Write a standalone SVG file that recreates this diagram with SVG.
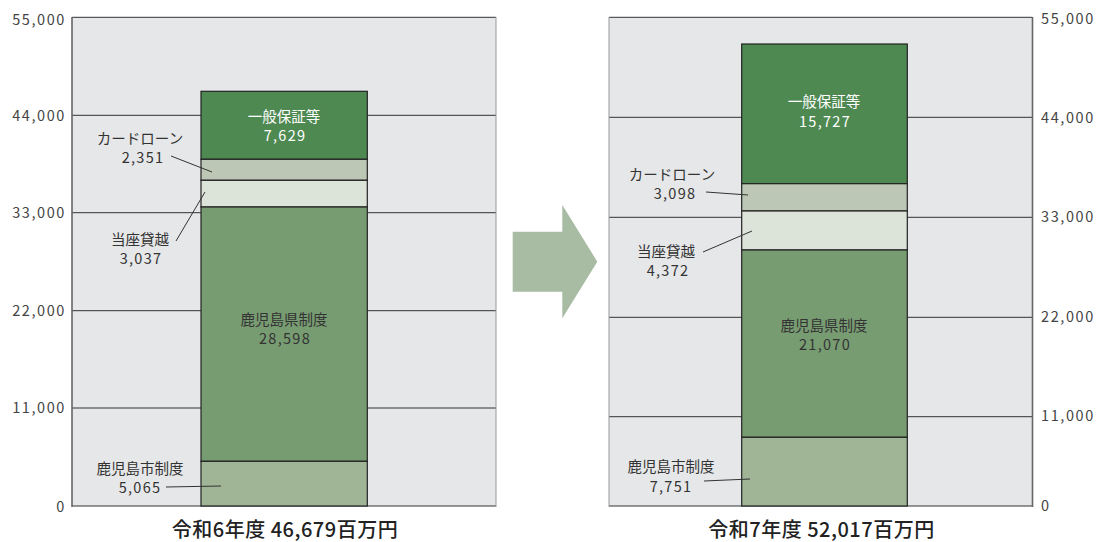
<svg xmlns="http://www.w3.org/2000/svg" width="1102" height="542" viewBox="0 0 1102 542">
<style>
text{font-family:"Noto Sans CJK JP","Noto Sans",sans-serif;}
.lbl{font-size:14.5px;fill:#333;text-anchor:middle;}
.wl{font-size:14.5px;fill:#fff;text-anchor:middle;}
.num{letter-spacing:1.3px;}
.ax{font-size:14.5px;fill:#444;letter-spacing:1.6px;}
.axl{text-anchor:end;}
.ttl{font-size:20px;fill:#222;text-anchor:middle;font-weight:500;letter-spacing:0.5px;}
.grid{stroke:#333;stroke-width:1;}
.seg{stroke:#222;stroke-width:1.2;}
.lead{stroke:#333;stroke-width:1;fill:none;}
.s1{fill:#4e8952;}
.s2{fill:#bcc8b5;}
.s3{fill:#dce3d8;}
.s4{fill:#789c72;}
.s5{fill:#9fb596;}
</style>
<rect width="1102" height="542" fill="#fff"/>

<g id="left-chart">
<rect x="72" y="17.3" width="424" height="488.7" fill="#e6e7e8"/>
<g>
<line class="grid" x1="72" y1="17.3" x2="496" y2="17.3"/>
<line class="grid" x1="72" y1="115.3" x2="496" y2="115.3"/>
<line class="grid" x1="72" y1="212.7" x2="496" y2="212.7"/>
<line class="grid" x1="72" y1="310.7" x2="496" y2="310.7"/>
<line class="grid" x1="72" y1="408" x2="496" y2="408"/>
<line class="grid" x1="72" y1="506" x2="496" y2="506"/>
<line x1="72" y1="17" x2="72" y2="507" stroke="#666" stroke-width="1.6"/>
<line x1="496" y1="17" x2="496" y2="507" stroke="#999" stroke-width="1"/>
</g>
<g class="ax axl">
<text x="66" y="25">55,000</text>
<text x="66" y="121">44,000</text>
<text x="66" y="218">33,000</text>
<text x="66" y="316">22,000</text>
<text x="66" y="413">11,000</text>
<text x="66" y="512">0</text>
</g>
</g>

<g id="left-bar">
<rect class="seg s1" x="201" y="91.3" width="166.3" height="68"/>
<rect class="seg s2" x="201" y="159.3" width="166.3" height="21"/>
<rect class="seg s3" x="201" y="180.3" width="166.3" height="26.7"/>
<rect class="seg s4" x="201" y="207" width="166.3" height="254.3"/>
<rect class="seg s5" x="201" y="461.3" width="166.3" height="44.7"/>
</g>

<g id="left-labels">
<text class="wl" x="284" y="121.5">一般保証等</text>
<text class="wl num" x="285" y="141">7,629</text>
<text class="lbl" x="140" y="143.5">カードローン</text>
<text class="lbl num" x="143" y="163">2,351</text>
<text class="lbl" x="140" y="244.5">当座貸越</text>
<text class="lbl num" x="141" y="264">3,037</text>
<text class="lbl" x="284" y="324.5">鹿児島県制度</text>
<text class="lbl num" x="285" y="344">28,598</text>
<text class="lbl" x="140" y="473.5">鹿児島市制度</text>
<text class="lbl num" x="140" y="493">5,065</text>
</g>

<g id="arrow">
<polygon points="512.7,231.7 562.3,231.7 562.3,205 597.3,261.7 562.3,318.3 562.3,291.7 512.7,291.7" fill="#a8bca3"/>
</g>

<g id="right-chart">
<rect x="609" y="17.3" width="423.3" height="488.7" fill="#e6e7e8"/>
<g>
<line class="grid" x1="609" y1="17.3" x2="1032.3" y2="17.3"/>
<line class="grid" x1="609" y1="117.3" x2="1032.3" y2="117.3"/>
<line class="grid" x1="609" y1="217.3" x2="1032.3" y2="217.3"/>
<line class="grid" x1="609" y1="317.3" x2="1032.3" y2="317.3"/>
<line class="grid" x1="609" y1="416.7" x2="1032.3" y2="416.7"/>
<line class="grid" x1="609" y1="506" x2="1032.3" y2="506"/>
<line x1="609" y1="17" x2="609" y2="507" stroke="#999" stroke-width="1"/>
<line x1="1032.5" y1="17" x2="1032.5" y2="507" stroke="#666" stroke-width="1.6"/>
</g>
<g class="ax">
<text x="1041" y="24">55,000</text>
<text x="1041" y="123">44,000</text>
<text x="1041" y="222">33,000</text>
<text x="1041" y="322">22,000</text>
<text x="1041" y="421">11,000</text>
<text x="1041" y="511">0</text>
</g>
</g>

<g id="right-bar">
<rect class="seg s1" x="741.7" y="44" width="165.6" height="139.7"/>
<rect class="seg s2" x="741.7" y="183.7" width="165.6" height="27.3"/>
<rect class="seg s3" x="741.7" y="211" width="165.6" height="39"/>
<rect class="seg s4" x="741.7" y="250" width="165.6" height="187.3"/>
<rect class="seg s5" x="741.7" y="437.3" width="165.6" height="68.7"/>
</g>

<g id="right-labels">
<text class="wl" x="824" y="107">一般保証等</text>
<text class="wl num" x="825" y="127">15,727</text>
<text class="lbl" x="672" y="179.5">カードローン</text>
<text class="lbl num" x="675" y="199">3,098</text>
<text class="lbl" x="666" y="257">当座貸越</text>
<text class="lbl num" x="668" y="276">4,372</text>
<text class="lbl" x="824" y="330.5">鹿児島県制度</text>
<text class="lbl num" x="825" y="350">21,070</text>
<text class="lbl" x="671" y="472">鹿児島市制度</text>
<text class="lbl num" x="671" y="492">7,751</text>
</g>

<g id="connectors">
<line class="lead" x1="171" y1="156" x2="212" y2="172"/>
<line class="lead" x1="176" y1="241" x2="205" y2="192"/>
<line class="lead" x1="166" y1="487" x2="221" y2="486"/>
<line class="lead" x1="706" y1="192" x2="748" y2="195"/>
<line class="lead" x1="703" y1="252" x2="752" y2="231"/>
<line class="lead" x1="704" y1="481" x2="750" y2="479"/>
</g>

<g id="titles">
<text class="ttl" x="285" y="537">令和6年度 46,679百万円</text>
<text class="ttl" x="821.5" y="537">令和7年度 52,017百万円</text>
</g>
</svg>
